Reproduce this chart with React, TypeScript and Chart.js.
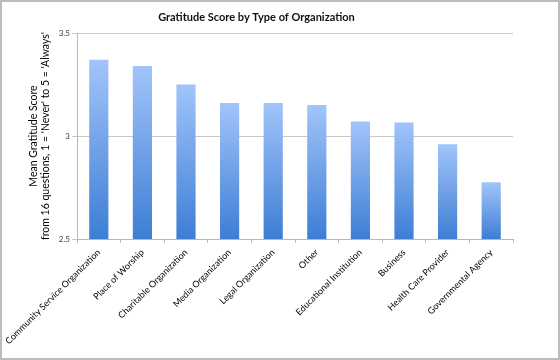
import React, { useEffect, useRef } from "react";
import { Chart, registerables } from "chart.js";

Chart.register(...registerables);

const categories = [
  "Community Service Organization",
  "Place of Worship",
  "Charitable Organization",
  "Media Organization",
  "Legal Organization",
  "Other",
  "Educational Institution",
  "Business",
  "Health Care Provider",
  "Governmental Agency",
];
const scores = [3.37, 3.34, 3.25, 3.16, 3.16, 3.15, 3.07, 3.065, 2.96, 2.775];
const yTicks = [2.5, 3, 3.5];
const chartTitle = "Gratitude Score by Type of Organization";
const yTitle = ["Mean Gratitude Score", "from 16 questions, 1 = 'Never' to 5 = 'Always'"];

const FONT = "Lato, 'Open Sans', sans-serif";

export default function App() {
  const ref = useRef<HTMLCanvasElement>(null);

  useEffect(() => {
    const canvas = ref.current;
    if (!canvas) return;
    const chart = new Chart(canvas, {
      type: "bar",
      data: {
        labels: categories,
        datasets: [
          {
            data: scores,
            barPercentage: 0.44,
            categoryPercentage: 1,
            borderWidth: 0,
            backgroundColor: (ctx: any) => {
              const c = ctx.chart;
              const ys = c.scales && c.scales.y;
              const area = c.chartArea;
              if (!ys || !area || ctx.parsed === undefined) return "#6a9de6";
              const top = ys.getPixelForValue(ctx.parsed.y);
              const bottom = area.bottom;
              if (!isFinite(top) || bottom - top < 1) return "#6a9de6";
              const g = c.ctx.createLinearGradient(0, top, 0, bottom);
              g.addColorStop(0, "#a2c4fb");
              g.addColorStop(1, "#3d7ed4");
              return g;
            },
          },
        ],
      },
      options: {
        responsive: false,
        animation: false,
        layout: { padding: { left: 0, right: 47, top: 0, bottom: 0 } },
        plugins: {
          legend: { display: false },
          tooltip: { enabled: false },
          title: {
            display: true,
            text: chartTitle,
            color: "#111",
            font: { family: FONT, size: 11, weight: "bold" },
            padding: { top: 10.5, bottom: 9.3 },
          },
        },
        scales: {
          x: {
            grid: {
              offset: true,
              drawOnChartArea: false,
              tickLength: 4,
              color: "#b8b8b8",
            },
            border: { color: "#b8b8b8" },
            ticks: {
              autoSkip: false,
              minRotation: 45,
              maxRotation: 45,
              padding: 4,
              color: "#000",
              font: { family: FONT, size: 9 },
            },
            afterFit: (s: any) => {
              s.height = 121;
              s.paddingLeft = 0;
              s.paddingRight = 0;
            },
          },
          y: {
            min: 2.5,
            max: 3.5,
            afterBuildTicks: (s: any) => {
              s.ticks = yTicks.map((v) => ({ value: v }));
            },
            grid: { color: "#c8c8c8", tickLength: 5 },
            border: { color: "#b8b8b8" },
            ticks: {
              color: "#444",
              padding: 2,
              font: { family: FONT, size: 8 },
              callback: (v: any) => String(v),
            },
            title: {
              display: true,
              text: yTitle,
              color: "#000",
              font: { family: FONT, size: 10.5 },
              padding: { top: 27, bottom: 0 },
            },
            afterFit: (s: any) => {
              s.width = 77;
            },
          },
        },
      },
    });
    return () => chart.destroy();
  }, []);

  return (
    <div style={{ position: "absolute", left: 0, top: 0, width: 560, height: 360, background: "#fff" }}>
      <canvas ref={ref} width={560} height={360} style={{ display: "block", position: "absolute", left: 0, top: 0 }} />
      <div
        style={{
          position: "absolute",
          left: 0,
          top: 0,
          width: 560,
          height: 360,
          boxSizing: "border-box",
          border: "2px solid #bdbdbd",
          pointerEvents: "none",
        }}
      />
    </div>
  );
}
